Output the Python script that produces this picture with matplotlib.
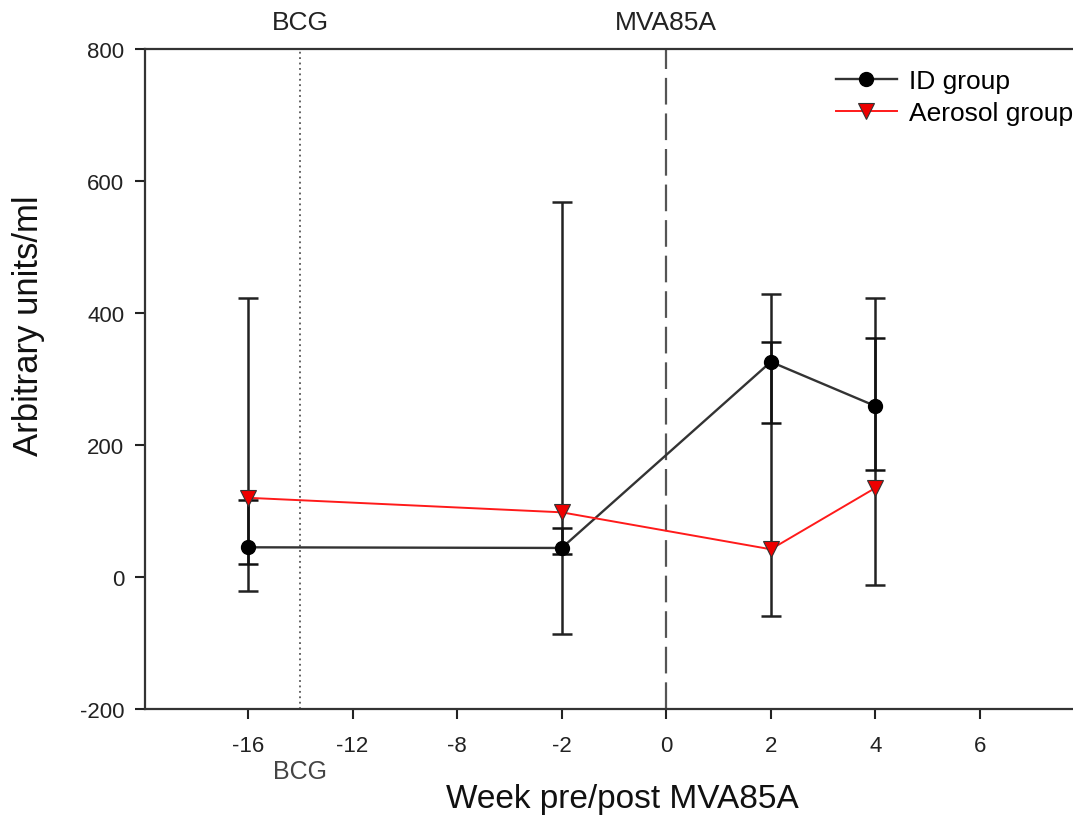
"""
ID 群 / Aerosol 群の抗体価推移（MVA85A 接種前後）を再描画する。
x 軸は等間隔のカテゴリ目盛り（-16, -12, -8, -2, 0, 2, 4, 6 週）。
"""

import numpy as np
import matplotlib
matplotlib.use("Agg")  # GUI 不要
import matplotlib.pyplot as plt

plt.rcParams["font.family"] = ["Liberation Sans", "DejaVu Sans"]
plt.rcParams["axes.unicode_minus"] = False

# x 軸の目盛り（週）: 画面上は等間隔に並ぶ
tick_weeks = [-16, -12, -8, -2, 0, 2, 4, 6]
y_ticks = [-200, 0, 200, 400, 600, 800]

# 測定週
weeks = [-16, -2, 2, 4]

# ID group（点 + 下限/上限）
id_mean = [45, 44, 326, 259]
id_low = [20, 35, 233, 162]
id_high = [117, 74, 356, 362]

# Aerosol group
aer_mean = [120, 98, 42, 135]
aer_low = [-21, -86, -59, -12]
aer_high = [423, 568, 429, 423]

# 接種タイミング
bcg_week = -14
mva_week = 0


def to_pos(w):
    """週 → 等間隔目盛り上の位置（区分線形）。"""
    return np.interp(w, tick_weeks, np.arange(len(tick_weeks)))


def main():
    W, H = 1073, 820
    fig = plt.figure(figsize=(W / 100, H / 100), dpi=100)
    ax = fig.add_axes([145 / W, 110 / H, 954 / W, 660 / H])

    x = to_pos(weeks)
    id_err = [np.subtract(id_mean, id_low), np.subtract(id_high, id_mean)]
    aer_err = [np.subtract(aer_mean, aer_low), np.subtract(aer_high, aer_mean)]

    # 接種タイミングの縦線
    ax.axvline(to_pos(bcg_week), color="#555555", linestyle=(0, (1, 2)),
               linewidth=1.3, zorder=1)
    ax.axvline(to_pos(mva_week), color="#555555", linestyle=(0, (12, 4)),
               linewidth=1.6, zorder=1)

    # エラーバー
    ax.errorbar(x, aer_mean, yerr=aer_err, fmt="none", ecolor="#222222",
                elinewidth=1.8, capsize=7, capthick=1.8, zorder=2)
    ax.errorbar(x, id_mean, yerr=id_err, fmt="none", ecolor="#111111",
                elinewidth=1.8, capsize=7, capthick=1.8, zorder=2)

    # 系列
    ax.plot(x, id_mean, "o-", color="#333333", markerfacecolor="black",
            markeredgecolor="black", markersize=10, linewidth=1.7,
            label="ID group", zorder=3)
    ax.plot(x, aer_mean, "v-", color="#ff1a1a", markerfacecolor="#ee0000",
            markeredgecolor="#333333", markeredgewidth=0.8, markersize=11,
            linewidth=1.4, label="Aerosol group", zorder=4)

    ax.set_xlim((145 - 248) / 104.57, (1099 - 248) / 104.57)
    ax.set_ylim(-200, 800)
    ax.set_xticks(np.arange(len(tick_weeks)))
    ax.set_xticklabels([str(w) for w in tick_weeks])
    ax.set_yticks(y_ticks)
    ax.tick_params(axis="both", direction="out", length=7, width=1.5,
                   labelsize=16, colors="#222222")
    ax.tick_params(axis="x", pad=12)
    ax.tick_params(axis="y", pad=8)

    for side in ("left", "bottom", "top"):
        ax.spines[side].set_linewidth(1.6)
        ax.spines[side].set_color("#333333")
    ax.spines["right"].set_visible(False)

    ax.set_xlabel("Week pre/post MVA85A", fontsize=24, color="#111111")
    ax.set_ylabel("Arbitrary units/ml", fontsize=25, color="#111111")
    ax.xaxis.set_label_coords(0.5, -0.112)
    ax.yaxis.set_label_coords(-0.105, 0.583)

    # 上部の接種ラベル
    for wk, name in ((bcg_week, "BCG"), (mva_week, "MVA85A")):
        ax.annotate(name, (to_pos(wk), 1.0), xycoords=("data", "axes fraction"),
                    xytext=(0, 11), textcoords="offset points",
                    ha="center", va="bottom", fontsize=19, color="#222222")
    # 下部の BCG ラベル
    ax.annotate("BCG", (to_pos(bcg_week), 0.0), xycoords=("data", "axes fraction"),
                xytext=(0, -36), textcoords="offset points",
                ha="center", va="top", fontsize=18, color="#444444")

    ax.legend(loc="upper left", bbox_to_anchor=(836 / W, 1 - 70 / H),
              bbox_transform=fig.transFigure, frameon=False, fontsize=19,
              handlelength=2.3, handletextpad=0.45, labelspacing=0.3,
              borderaxespad=0, borderpad=0)

    fig.savefig("out.png", dpi=100)
    plt.close(fig)


if __name__ == "__main__":
    main()
